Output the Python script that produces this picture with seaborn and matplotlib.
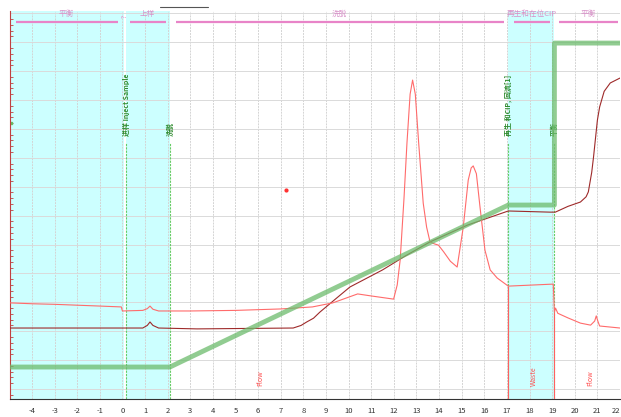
import pandas as pd
import matplotlib.pyplot as plt
import matplotlib.lines as mlines
from matplotlib.ticker import MultipleLocator
import seaborn as sns

# UV trace (light red)
uv_t = [-4.97, -4, -3, -2, -1, -0.05, 0.0, 0.9, 1.1, 1.22, 1.35, 1.6, 3, 5, 7, 8.4, 9.3, 10.4,
        11.0, 11.99, 12.15, 12.28, 12.45, 12.58, 12.72, 12.83, 12.95, 13.1, 13.3, 13.45, 13.6,
        13.8, 13.97, 14.2, 14.5, 14.8, 15.07, 15.29, 15.42, 15.51, 15.65, 15.81, 16.03, 16.26,
        16.57, 17.06, 19.05, 19.1, 19.15, 19.25, 19.7, 20.25, 20.7, 20.88, 20.95, 21.02, 21.1, 22]
uv_v = [2.98, 2.95, 2.93, 2.9, 2.87, 2.84, 2.70, 2.72, 2.78, 2.87, 2.76, 2.70, 2.70, 2.72, 2.77,
        2.84, 2.98, 3.29, 3.22, 3.11, 3.6, 4.46, 6.6, 8.5, 10.2, 10.69, 10.2, 8.5, 6.43, 5.6, 5.09,
        5.02, 4.98, 4.75, 4.42, 4.22, 5.6, 7.23, 7.65, 7.72, 7.45, 6.3, 4.8, 4.12,
        3.84, 3.56, 3.63, 2.66, 2.8, 2.62, 2.46, 2.28, 2.21, 2.35, 2.53, 2.35, 2.18, 2.11]

# conductivity trace (dark red)
cond_t = [-4.97, 0.9, 1.1, 1.22, 1.35, 1.6, 3.3, 7.55, 7.9, 8.15, 8.45, 8.73, 9.4, 10.06, 11.5,
          12.5, 13.6, 15.25, 17.06, 18.9, 19.14, 19.7, 20.25, 20.5, 20.6, 20.75, 20.83, 21.0,
          21.1, 21.3, 21.57, 22]
cond_v = [2.11, 2.11, 2.2, 2.32, 2.2, 2.11, 2.08, 2.11, 2.2, 2.32, 2.45, 2.66, 3.1, 3.53, 4.12,
          4.6, 5.09, 5.67, 6.16, 6.12, 6.12, 6.32, 6.47, 6.65, 6.82, 7.5, 8.03, 9.3,
          9.76, 10.3, 10.59, 10.76]

# gradient %B (green)
grad_t = [-4.97, 2.1, 17.06, 19.1, 19.1, 22]
grad_b = [0, 0, 50, 50, 100, 100]

# phase blocks (top)
phase_names = ['平衡', '上样', '洗脱', '再生和在位CIP', '平衡']
phase_start = [-4.7, 0.34, 2.37, 17.33, 19.3]
phase_end = [-0.19, 1.93, 16.88, 18.9, 21.9]
phase_label_x = [-2.5, 1.1, 9.6, 18.1, 20.6]

# events (green vertical text)
event_x = [-4.9, 0.17, 2.1, 17.06, 19.1]
event_text = ['', '进样 Inject Sample', '洗脱', '再生 和CIP, 回流[1]', '平衡']

# fractions (bottom)
frac_x = [6.1, 18.2, 20.7]
frac_text = ['Flow', 'Waste', 'Flow']

shaded = [(-4.97, 0.06), (0.15, 2.1), (17.06, 19.1)]

sns.set_style('white')
plt.rcParams['font.family'] = ['Noto Sans CJK SC', 'DejaVu Sans']
plt.rcParams['axes.unicode_minus'] = False

fig = plt.figure(figsize=(6.21, 4.17), dpi=100)
ax = fig.add_axes([10 / 621, 18 / 417, 610 / 621, 388 / 417])

for a, b in shaded:
    ax.axvspan(a, b, color='#ccffff', zorder=0, lw=0)

ax.set_xlim(-4.97, 22)
ax.set_ylim(-0.346, 13.08)
ax.set_xticks(range(-4, 23))
ax.xaxis.set_minor_locator(MultipleLocator(0.2))
ax.yaxis.set_major_locator(MultipleLocator(1))
ax.yaxis.set_minor_locator(MultipleLocator(0.2))
ax.grid(True, axis='x', which='major', color='#d4d4d4', ls=(0, (2, 1)), lw=0.7, zorder=1)
ax.grid(True, axis='y', which='major', color='#dadada', ls='-', lw=0.7, zorder=1)

for xv in event_x[1:]:
    ax.axvline(xv, ymin=0, ymax=0.66, color='#66cc66', ls=(0, (2, 1)), lw=0.8, zorder=2)

ax.vlines([17.06, 19.1], -0.346, [3.56, 2.66], color='#ff6060', lw=0.8, zorder=3)

uv = pd.DataFrame({'t': uv_t, 'v': uv_v})
cond = pd.DataFrame({'t': cond_t, 'v': cond_v})
sns.lineplot(data=cond, x='t', y='v', ax=ax, color='#9e2a2a', lw=0.8,
             estimator=None, sort=False, zorder=4)
sns.lineplot(data=uv, x='t', y='v', ax=ax, color='#ff6b6b', lw=0.8,
             estimator=None, sort=False, zorder=4)
ax.scatter([7.24], [6.89], s=4, color='#ff3030', zorder=5)

ax2 = ax.twinx()
grad = pd.DataFrame({'t': grad_t, 'b': grad_b})
sns.lineplot(data=grad, x='t', y='b', ax=ax2, color='#6dbb6d', lw=3.5, alpha=0.75,
             estimator=None, sort=False)
ax2.set_ylim(-9.87, 109.9)
ax2.set_axis_off()

for name, s, e, lx in zip(phase_names, phase_start, phase_end, phase_label_x):
    ax.plot([s, e], [12.7, 12.7], color='#e884c8', lw=1.6, zorder=5, solid_capstyle='butt')
    ax.text(lx, 12.98, name, fontsize=5.5, color='#d890c8', ha='center', va='center')
ax.text(0.08, 12.9, '?', fontsize=4.5, color='#e884c8', ha='center', va='center', rotation=90)

for xv, txt in zip(event_x, event_text):
    if txt:
        ax.text(xv, 8.75, txt, fontsize=5, color='#2e8b2e', rotation=90,
                ha='center', va='bottom', fontweight='bold')
ax.plot([-4.92], [9.2], marker='s', ms=2, color='#66bb66')

for xv, txt in zip(frac_x, frac_text):
    ax.text(xv, 0.1, txt, fontsize=5, color='#ff5050', rotation=90, ha='center', va='bottom')

ax.set_xlabel('')
ax.set_ylabel('')
ax.set_yticklabels([])
for side in ['top', 'right']:
    ax.spines[side].set_visible(False)
ax.spines['left'].set_color('#c04040')
ax.spines['bottom'].set_color('#333333')
ax.tick_params(axis='x', which='major', labelsize=5.5, length=3, colors='#333333', pad=3)
ax.tick_params(axis='x', which='minor', length=1.5, colors='#333333')
ax.tick_params(axis='y', which='both', direction='in', length=2, colors='#c04040', left=True)
ax.tick_params(axis='y', which='major', length=0)

# keep the last tick label inside the figure
ax.xaxis.get_major_ticks()[-1].label1.set_horizontalalignment('right')

fig.add_artist(mlines.Line2D([160 / 621, 208 / 621], [0.983, 0.983], color='#555555', lw=0.8))

fig.savefig('out.png', dpi=100)
